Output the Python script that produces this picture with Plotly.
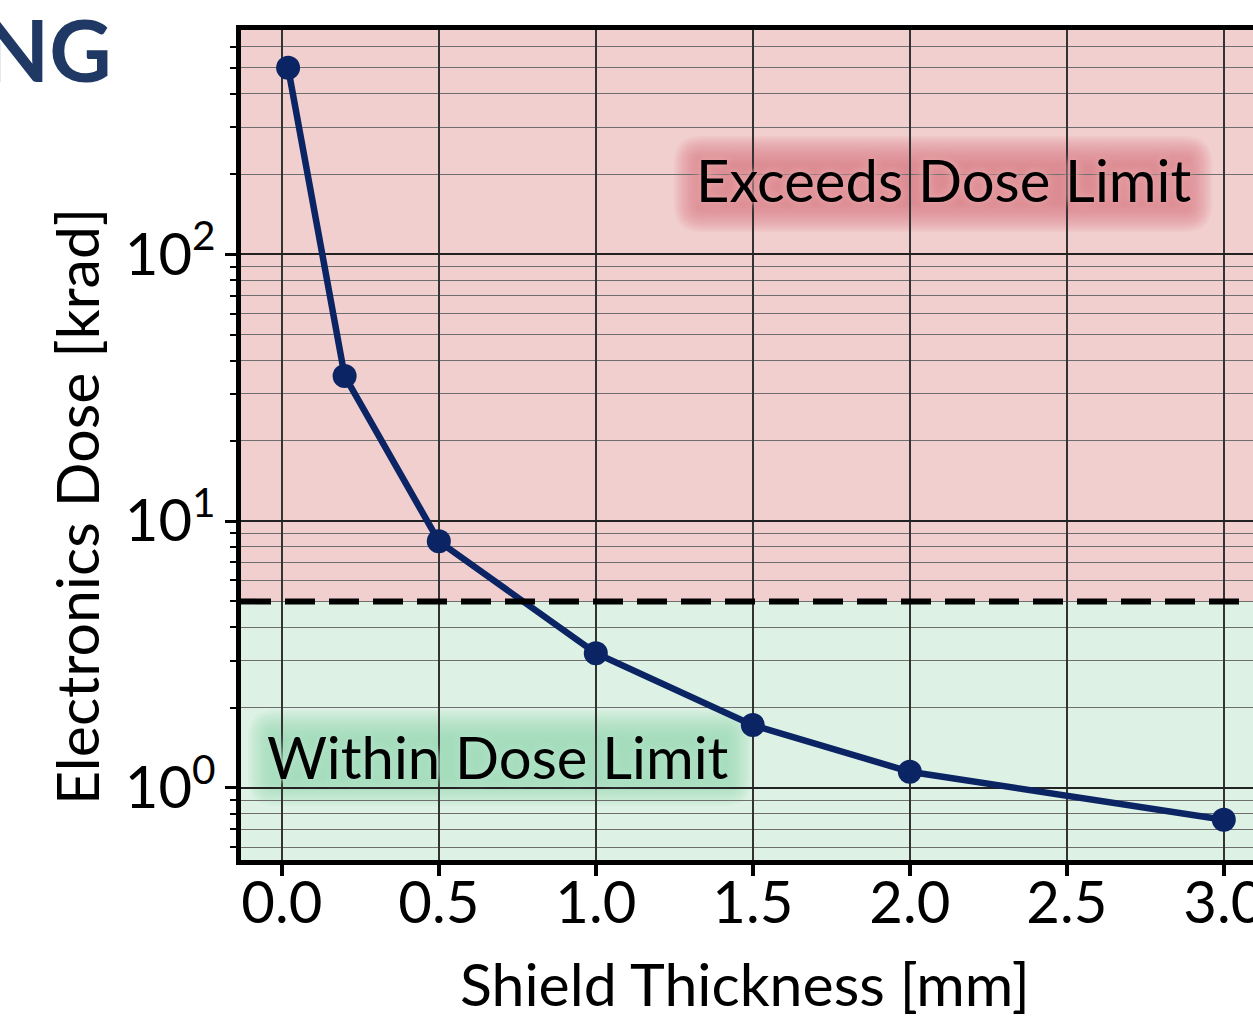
import plotly.graph_objects as go
import numpy as np

thickness = [0.02, 0.2, 0.5, 1.0, 1.5, 2.0, 3.0]
dose = [500, 35, 8.4, 3.2, 1.72, 1.15, 0.76]
dose_limit = 5
x_ticks = [0.0, 0.5, 1.0, 1.5, 2.0, 2.5, 3.0]
x_ticktext = ["0.0", "0.5", "1.0", "1.5", "2.0", "2.5", "3.0"]
y_ticks = [1, 10, 100]
y_ticktext = ["10<sup>0</sup>", "10<sup>1</sup>", "10<sup>2</sup>"]

W, H = 1253, 1017
L, T, R, B = 241, 30, 0, 157
PW, PH = W - L - R, H - T - B
x_range = [-0.13, 3.093]
y_range = [np.log10(0.537), np.log10(693)]

FONT = "Lato"
navy = "#0B2463"


def px(xp):
    return (xp - L) / PW


def py(yp):
    return 1 - (yp - T) / PH


def rounded_rect(x0, y0, x1, y1, r):
    # pixel bounds -> paper-coordinate rounded rectangle path
    rx, ry = r / PW, r / PH
    a, b, c, d = px(x0), py(y1), px(x1), py(y0)  # left, bottom, right, top
    return (f"M {a+rx},{b} L {c-rx},{b} Q {c},{b} {c},{b+ry} "
            f"L {c},{d-ry} Q {c},{d} {c-rx},{d} L {a+rx},{d} "
            f"Q {a},{d} {a},{d-ry} L {a},{b+ry} Q {a},{b} {a+rx},{b} Z")


def glow_shapes(x0, y0, x1, y1, color, n=13, step=2.4, alpha=0.105):
    out = []
    for i in range(n):
        inset = i * step
        out.append(dict(type="path", xref="paper", yref="paper",
                        path=rounded_rect(x0 + inset, y0 + inset, x1 - inset, y1 - inset,
                                          max(28 - inset, 6)),
                        fillcolor=color, opacity=alpha, line_width=0, layer="between"))
    return out


def glow(c1):
    return ", ".join(f"0 0 {r}px {c1}" for r in (4, 8, 12))


fig = go.Figure()
fig.add_trace(go.Scatter(
    x=thickness, y=dose, mode="lines+markers",
    line=dict(color=navy, width=6.5),
    marker=dict(color=navy, size=24),
    showlegend=False, cliponaxis=False,
))

shapes = [
    dict(type="rect", xref="paper", yref="y", x0=0, x1=1, y0=dose_limit, y1=10 ** y_range[1],
         fillcolor="#F2CFCF", line_width=0, layer="below"),
    dict(type="rect", xref="paper", yref="y", x0=0, x1=1, y0=10 ** y_range[0], y1=dose_limit,
         fillcolor="#DDF2E4", line_width=0, layer="below"),
]
shapes += glow_shapes(674, 136, 1212, 232, "#DC7E84")
shapes += glow_shapes(248, 710, 752, 806, "#96D8B4")
shapes.append(dict(type="line", xref="paper", yref="y", x0=0, x1=1, y0=dose_limit, y1=dose_limit,
                   line=dict(color="black", width=6, dash="30px,14px"), layer="above"))

annotations = [
    dict(text="Exceeds Dose Limit", x=2.108, y=np.log10(190), xref="x", yref="y",
         showarrow=False, xanchor="center", yanchor="middle",
         font=dict(family=FONT, size=58, color="black", shadow=glow("#E6A0A4"))),
    dict(text="Within Dose Limit", x=0.69, y=np.log10(1.31), xref="x", yref="y",
         showarrow=False, xanchor="center", yanchor="middle",
         font=dict(family=FONT, size=58, color="black", shadow=glow("#B0E2C6"))),
    dict(text="Shield Thickness [mm]", x=px(745), y=py(983),
         xref="paper", yref="paper", showarrow=False, xanchor="center", yanchor="middle",
         font=dict(family=FONT, size=59, color="black")),
    dict(text="Electronics Dose [krad]", x=px(76), y=py(507),
         xref="paper", yref="paper", showarrow=False, xanchor="center", yanchor="middle",
         textangle=-90, font=dict(family=FONT, size=59, color="black")),
    dict(text="<b>NG</b>", x=px(114), y=py(48),
         xref="paper", yref="paper", showarrow=False, xanchor="right", yanchor="middle",
         font=dict(family=FONT, size=86, color="#1F3864")),
]

fig.update_layout(
    width=W, height=H,
    margin=dict(l=L, r=R, t=T, b=B, pad=0, autoexpand=False),
    paper_bgcolor="white", plot_bgcolor="white",
    shapes=shapes, annotations=annotations,
    font=dict(family=FONT, color="black"),
    xaxis=dict(
        range=x_range, tickvals=x_ticks, ticktext=x_ticktext,
        showgrid=True, gridcolor="#333333", gridwidth=1.5,
        showline=True, linecolor="black", linewidth=4.5, mirror=True,
        ticks="outside", ticklen=11, tickwidth=4, tickcolor="black",
        tickfont=dict(family=FONT, size=58, color="black"),
        ticklabelstandoff=-22, ticklabeloverflow="allow", automargin=False,
        zeroline=False, layer="below traces",
    ),
    yaxis=dict(
        type="log", range=y_range, tickvals=y_ticks, ticktext=y_ticktext,
        showgrid=True, gridcolor="#222222", gridwidth=1.5,
        showline=True, linecolor="black", linewidth=4.5, mirror=False,
        ticks="outside", ticklen=11, tickwidth=3, tickcolor="black",
        tickfont=dict(family=FONT, size=58, color="black"),
        ticklabelstandoff=-2, automargin=False,
        zeroline=False, layer="below traces",
        minor=dict(dtick="D1", ticks="outside", ticklen=6, tickwidth=2, tickcolor="black",
                   showgrid=True, gridcolor="#6E6E6E", gridwidth=1.2),
    ),
)

fig.write_html("out.html")
